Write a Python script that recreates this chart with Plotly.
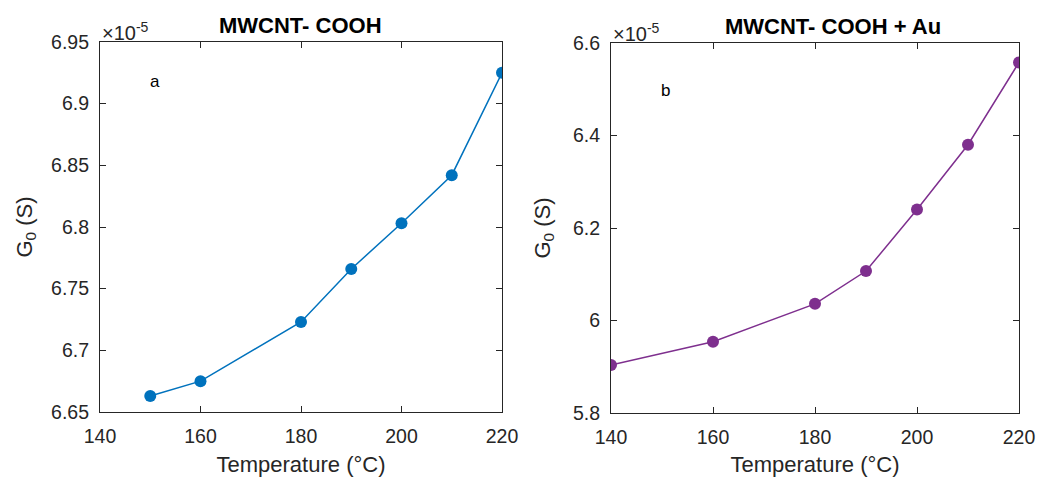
import plotly.graph_objects as go

temp_a = [150, 160, 180, 190, 200, 210, 220]
g0_a = [6.663, 6.675, 6.723, 6.766, 6.803, 6.842, 6.925]
temp_b = [140, 160, 180, 190, 200, 210, 220]
g0_b = [5.904, 5.954, 6.036, 6.107, 6.240, 6.380, 6.558]

titles = ["MWCNT- COOH", "MWCNT- COOH + Au"]
x_ticks = [140, 160, 180, 200, 220]
y_ticks_a = [6.65, 6.7, 6.75, 6.8, 6.85, 6.9, 6.95]
y_ticklabels_a = ["6.65", "6.7", "6.75", "6.8", "6.85", "6.9", "6.95"]
y_ticks_b = [5.8, 6.0, 6.2, 6.4, 6.6]
y_ticklabels_b = ["5.8", "6", "6.2", "6.4", "6.6"]

blue = "#0072BD"
purple = "#7E2F8E"
axc = "#262626"
font = "Liberation Sans, Arial, sans-serif"

fig = go.Figure()
fig.add_trace(go.Scatter(x=temp_a, y=g0_a, mode="lines+markers",
                         line=dict(color=blue, width=1.5),
                         marker=dict(color=blue, size=12), xaxis="x", yaxis="y"))
fig.add_trace(go.Scatter(x=temp_b, y=g0_b, mode="lines+markers",
                         line=dict(color=purple, width=1.5),
                         marker=dict(color=purple, size=12), xaxis="x2", yaxis="y2"))

# body margin is removed in the page, so figure pixels == window pixels
W, H = 1037, 477
def dx(p): return p / W
def dy(p): return 1 - p / H

common = dict(showgrid=False, zeroline=False, showline=True, linecolor=axc, linewidth=1.2,
              mirror="ticks", ticks="inside", ticklen=6, tickcolor=axc, tickwidth=1.2,
              automargin=False,
              tickfont=dict(size=19.5, color=axc, family=font))
xt = dict(font=dict(size=22, color=axc, family=font), standoff=18)

fig.update_layout(
    width=W, height=H, showlegend=False,
    paper_bgcolor="white", plot_bgcolor="white",
    margin=dict(l=0, r=0, t=0, b=0, autoexpand=False),
    font=dict(family=font, color=axc),
    xaxis=dict(domain=[dx(100), dx(502)], range=[140, 220], tickvals=x_ticks, anchor="y",
               ticklabelstandoff=6, ticklabeloverflow="allow",
               title=dict(text="Temperature (°C)", **xt), **common),
    yaxis=dict(domain=[dy(412), dy(42)], range=[6.65, 6.95], tickvals=y_ticks_a, ticktext=y_ticklabels_a, anchor="x",
               ticklabelstandoff=6,
               title=dict(text="G<sub>0</sub> (S)", font=dict(size=22, color=axc, family=font), standoff=12), **common),
    xaxis2=dict(domain=[dx(611), dx(1019)], range=[140, 220], tickvals=x_ticks, anchor="y2",
                ticklabelstandoff=6, ticklabeloverflow="allow",
                title=dict(text="Temperature (°C)", **xt), **common),
    yaxis2=dict(domain=[dy(413), dy(43)], range=[5.8, 6.6], tickvals=y_ticks_b, ticktext=y_ticklabels_b, anchor="x2",
                ticklabelstandoff=6,
                title=dict(text="G<sub>0</sub> (S)", font=dict(size=22, color=axc, family=font), standoff=16), **common),
)

# Titles
fig.add_annotation(x=dx(300), y=dy(42), xref="paper", yref="paper", xanchor="center",
                   text="<b>%s</b>" % titles[0], showarrow=False, yanchor="bottom", yshift=2,
                   font=dict(size=22, color="black", family=font))
fig.add_annotation(x=dx(833), y=dy(43), xref="paper", yref="paper", xanchor="center",
                   text="<b>%s</b>" % titles[1], showarrow=False, yanchor="bottom", yshift=2,
                   font=dict(size=22, color="black", family=font))
# Exponent labels
fig.add_annotation(x=dx(100), y=dy(42), xref="paper", yref="paper", text="×10<sup>-5</sup>",
                   showarrow=False, xanchor="left", yanchor="bottom", yshift=-4,
                   font=dict(size=20, color=axc, family=font))
fig.add_annotation(x=dx(611), y=dy(43), xref="paper", yref="paper", text="×10<sup>-5</sup>",
                   showarrow=False, xanchor="left", yanchor="bottom", yshift=-4,
                   font=dict(size=20, color=axc, family=font))
# Panel letters
fig.add_annotation(x=151, y=6.918, xref="x", yref="y", text="a", showarrow=False,
                   font=dict(size=17, color="black", family=font))
fig.add_annotation(x=150.6, y=6.498, xref="x2", yref="y2", text="b", showarrow=False,
                   font=dict(size=17, color="black", family=font))

fig.write_html("out.html", config={"displayModeBar": False},
               post_script="document.body.style.margin='0px';")
